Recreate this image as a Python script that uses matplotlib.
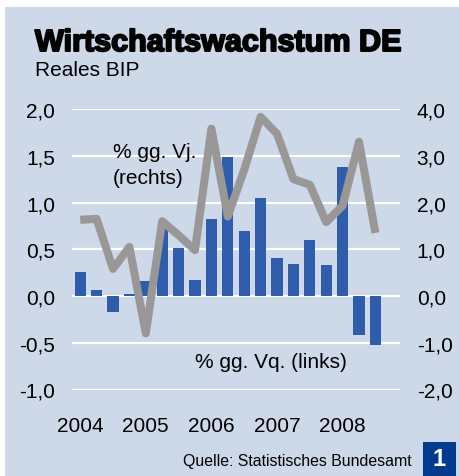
import matplotlib
matplotlib.use('Agg')
import matplotlib.pyplot as plt
import matplotlib.patches as mpatches
import matplotlib.patheffects as pe
import numpy as np

plt.rcParams['font.family'] = ['Liberation Sans', 'DejaVu Sans']

# quarterly data 2004Q1 .. 2008Q3
bip_vq = [0.26, 0.065, -0.17, 0.02, 0.16, 0.72, 0.51, 0.17, 0.82, 1.49,
          0.70, 1.05, 0.41, 0.34, 0.60, 0.33, 1.38, -0.42, -0.52]
bip_vj = [1.63, 1.65, 0.58, 1.05, -0.80, 1.60, 1.30, 0.98, 3.58, 1.70,
          2.70, 3.83, 3.47, 2.50, 2.38, 1.58, 1.93, 3.30, 1.35]
years = ['2004', '2005', '2006', '2007', '2008']
left_ticks = [-1.0, -0.5, 0.0, 0.5, 1.0, 1.5, 2.0]
right_ticks = [-2.0, -1.0, 0.0, 1.0, 2.0, 3.0, 4.0]

BG = '#cdd8e9'
BAR = '#2f5dab'
LINE = '#9a9896'

W, H = 460, 477
fig = plt.figure(figsize=(W / 100, H / 100), dpi=100)
fig.patch.set_facecolor('white')
fig.patches.append(mpatches.Rectangle((5 / W, 0), 1 - 5 / W, 1 - 8 / H,
                                      transform=fig.transFigure,
                                      facecolor=BG, edgecolor='none', zorder=-10))

ax = fig.add_axes([72 / W, 1 - 390.5 / H, 328 / W, 280.5 / H])
ax.set_facecolor('none')
x = np.arange(len(bip_vq))
ax.bar(x, bip_vq, width=0.68, color=BAR, zorder=2)
ax.set_xlim(-0.5, 19.5)
ax.set_ylim(-1.0, 2.0)
ax.set_yticks(left_ticks)
ax.yaxis.set_major_formatter(plt.FuncFormatter(lambda v, p: f'{v:.1f}'.replace('.', ',')))
ax.set_xticks(np.arange(len(years)) * 4)
ax.set_xticklabels(years)
for v in left_ticks:
    ax.axhline(v, color='white', linewidth=1.6, zorder=1)
for s in ax.spines.values():
    s.set_visible(False)
ax.tick_params(axis='y', length=0, pad=12, labelsize=15)
ax.tick_params(axis='x', length=0, pad=19, labelsize=15)

ax2 = ax.twinx()
ax2.set_ylim(-2.0, 4.0)
ax2.set_yticks(right_ticks)
ax2.yaxis.set_major_formatter(plt.FuncFormatter(lambda v, p: f'{v:.1f}'.replace('.', ',')))
ax2.plot(x, bip_vj, color=LINE, linewidth=5.8, solid_joinstyle='round',
         solid_capstyle='butt', zorder=3)
for s in ax2.spines.values():
    s.set_visible(False)
ax2.tick_params(axis='y', length=0, pad=12, labelsize=15)

fig.text(35 / W, 1 - 44 / H, 'Wirtschaftswachstum DE', fontsize=22,
         fontweight='bold', va='center', ha='left',
         path_effects=[pe.withStroke(linewidth=1.4, foreground='black')])
fig.text(35 / W, 1 - 71 / H, 'Reales BIP', fontsize=15, va='center', ha='left')

fig.text(113 / W, 1 - 153 / H, '% gg. Vj.', fontsize=15, va='center', ha='left')
fig.text(113 / W, 1 - 178 / H, '(rechts)', fontsize=15, va='center', ha='left')
fig.text(195 / W, 1 - 362 / H, '% gg. Vq. (links)', fontsize=15, va='center', ha='left')

fig.text(412 / W, 1 - 462 / H, 'Quelle: Statistisches Bundesamt', fontsize=11.4,
         va='center', ha='right')
fig.patches.append(mpatches.Rectangle((423 / W, 0), 33 / W, 34 / H,
                                      transform=fig.transFigure,
                                      facecolor='#003b8e', edgecolor='none', zorder=1))
fig.text(439.5 / W, 17 / H, '1', fontsize=17, fontweight='bold', color='white',
         va='center', ha='center')

fig.savefig('out.png', dpi=100)
